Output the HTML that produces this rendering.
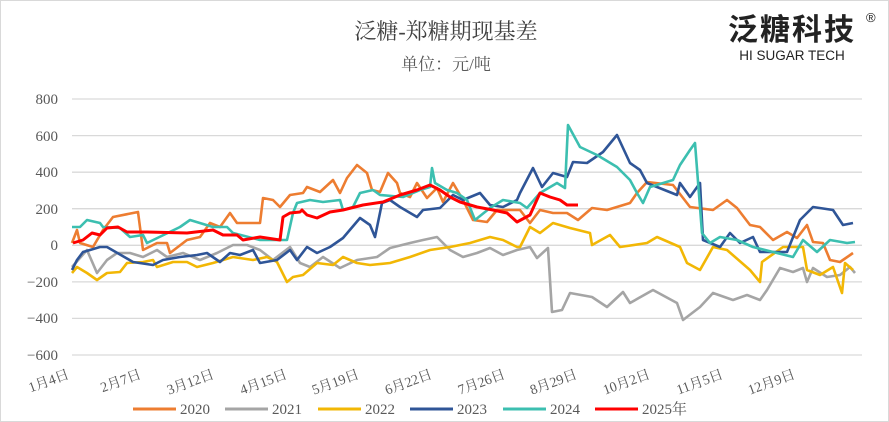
<!DOCTYPE html>
<html><head><meta charset="utf-8"><style>
body{margin:0;background:#fff;}
svg{display:block;font-family:"Liberation Serif","Noto Serif CJK SC",serif;}
</style></head><body>
<svg width="889" height="422" viewBox="0 0 889 422">
<rect x="0.5" y="0.5" width="888" height="421" fill="#fff" stroke="#d9d9d9"/>
<text x="446" y="39" font-size="22" text-anchor="middle" fill="#404040">泛糖-郑糖期现基差</text>
<text x="446" y="70" font-size="17" text-anchor="middle" fill="#595959">单位：元/吨</text>
<text x="792" y="40" font-size="30" font-weight="bold" text-anchor="middle" fill="#222" font-family="Liberation Sans,Noto Sans CJK SC,sans-serif" letter-spacing="2">泛糖科技</text>
<text x="866" y="22" font-size="13" fill="#222" font-family="Liberation Sans,sans-serif">®</text>
<text x="792" y="60" font-size="13.5" text-anchor="middle" fill="#222" font-family="Liberation Sans,sans-serif">HI SUGAR TECH</text>
<g stroke="#d9d9d9" stroke-width="1.3">
<line x1="72" x2="862" y1="99" y2="99"/><line x1="72" x2="862" y1="135.6" y2="135.6"/><line x1="72" x2="862" y1="172.2" y2="172.2"/><line x1="72" x2="862" y1="208.7" y2="208.7"/><line x1="72" x2="862" y1="245.3" y2="245.3"/><line x1="72" x2="862" y1="281.9" y2="281.9"/><line x1="72" x2="862" y1="318.4" y2="318.4"/><line x1="72" x2="862" y1="355" y2="355"/>
</g>
<g font-size="15" fill="#595959" text-anchor="end">
<text x="58" y="104">800</text><text x="58" y="141">600</text><text x="58" y="177">400</text><text x="58" y="214">200</text><text x="58" y="250">0</text><text x="58" y="287">−200</text><text x="58" y="323">−400</text><text x="58" y="360">−600</text>
</g>
<g font-size="14" fill="#595959" text-anchor="end">
<text transform="translate(70,378) rotate(-20)">1月4日</text>
<text transform="translate(142,378) rotate(-20)">2月7日</text>
<text transform="translate(215,378) rotate(-20)">3月12日</text>
<text transform="translate(288,378) rotate(-20)">4月15日</text>
<text transform="translate(360,378) rotate(-20)">5月19日</text>
<text transform="translate(433,378) rotate(-20)">6月22日</text>
<text transform="translate(506,378) rotate(-20)">7月26日</text>
<text transform="translate(578,378) rotate(-20)">8月29日</text>
<text transform="translate(651,378) rotate(-20)">10月2日</text>
<text transform="translate(724,378) rotate(-20)">11月5日</text>
<text transform="translate(796,378) rotate(-20)">12月9日</text>
</g>
<g fill="none" stroke-width="2.6" stroke-linejoin="round">
<polyline stroke="#a5a5a5" points="72,267 87,250 97,273 107,260 117,253 130,253 143,257 157,250 167,257 183,253 200,260 217,253 233,245 247,245 260,250 273,260 290,247 300,263 310,267 323,257 340,268 357,260 377,257 390,248 410,243 423,240 437,237 450,250 463,257 477,253 490,248 503,255 517,250 530,247 537,258 548,248 552,312 562,310 570,293 592,297 607,307 623,292 630,303 653,290 677,303 683,320 700,307 713,293 733,300 747,295 760,300 767,290 780,268 793,272 803,268 807,282 813,268 827,277 840,275 850,267 855,273"/>
<polyline stroke="#f2b705" points="72,273 77,267 87,273 97,280 107,273 120,272 127,263 143,262 153,260 157,267 173,262 187,262 197,267 213,263 223,260 233,257 253,260 267,257 277,262 287,282 293,277 303,275 317,263 333,265 343,257 357,263 370,265 390,263 410,257 430,250 450,247 470,243 490,237 503,240 517,247 520,247 530,227 540,233 553,223 570,228 590,233 592,245 610,235 620,247 647,243 657,237 680,247 687,263 700,270 713,247 727,250 750,270 760,282 762,262 783,247 803,247 807,270 820,275 833,267 842,293 845,263 853,270"/>
<polyline stroke="#ed7d31" points="72,243 77,230 80,243 93,247 103,230 113,217 138,212 143,250 157,243 167,243 170,253 187,240 200,237 210,223 220,227 230,213 237,223 260,223 263,198 273,200 280,207 290,195 303,193 307,187 320,192 333,180 340,193 347,178 357,165 367,173 372,190 380,192 388,173 397,183 400,193 410,197 417,183 427,198 437,188 443,202 453,183 463,200 473,220 487,222 497,210 510,210 520,210 530,223 540,210 553,213 567,213 578,220 592,208 607,210 630,203 637,193 647,182 673,185 690,207 713,210 727,200 737,208 750,225 760,227 773,240 787,232 797,238 807,225 813,242 823,243 830,260 840,262 853,253"/>
<polyline stroke="#2f5597" points="72,270 77,260 83,252 90,250 100,247 107,247 133,262 153,265 163,260 180,257 197,255 207,253 220,262 230,253 240,255 253,250 260,263 277,260 290,250 297,260 307,247 317,253 330,247 343,238 360,218 370,225 375,237 382,203 390,200 400,207 417,217 423,210 440,208 453,195 463,200 480,193 490,205 503,207 517,200 520,193 533,168 542,187 553,173 567,177 573,162 587,163 603,152 617,135 630,163 640,170 647,183 677,195 680,183 690,197 700,183 703,240 720,247 730,233 740,243 753,237 760,252 787,252 800,220 813,207 833,210 843,225 853,223"/>
<polyline stroke="#3cbfb0" points="72,227 80,227 87,220 100,223 103,227 120,228 130,237 143,235 147,243 180,227 190,220 213,227 227,227 233,233 260,240 287,240 293,213 297,203 310,200 323,202 340,200 343,210 353,207 360,193 373,190 380,195 403,197 420,190 430,187 432,168 435,183 447,190 457,193 467,200 475,220 490,208 503,200 520,203 527,208 540,193 557,183 565,188 568,125 580,147 597,155 617,167 630,180 637,193 643,203 650,187 673,180 680,165 690,150 695,143 702,233 710,243 720,237 737,240 753,247 773,252 793,257 803,240 817,252 830,240 847,243 855,242"/>
<polyline stroke="#ff0000" stroke-width="3" points="73,243 83,240 92,233 100,235 107,228 118,227 127,232 147,232 187,233 213,230 223,235 237,235 243,240 260,237 280,240 283,217 290,213 300,212 302,210 307,215 317,218 330,212 343,210 363,205 383,202 400,195 417,190 430,185 440,190 450,197 460,202 477,207 493,210 507,213 517,222 530,215 540,193 550,197 560,200 567,205 578,205"/>
</g>
<g font-size="15" fill="#595959">
<line x1="133" y1="409" x2="176" y2="409" stroke="#ed7d31" stroke-width="3"/><text x="180" y="414">2020</text>
<line x1="225" y1="409" x2="268" y2="409" stroke="#a5a5a5" stroke-width="3"/><text x="272" y="414">2021</text>
<line x1="318" y1="409" x2="361" y2="409" stroke="#f2b705" stroke-width="3"/><text x="365" y="414">2022</text>
<line x1="410" y1="409" x2="453" y2="409" stroke="#2f5597" stroke-width="3"/><text x="457" y="414">2023</text>
<line x1="503" y1="409" x2="546" y2="409" stroke="#3cbfb0" stroke-width="3"/><text x="550" y="414">2024</text>
<line x1="595" y1="409" x2="638" y2="409" stroke="#ff0000" stroke-width="3"/><text x="642" y="414">2025年</text>
</g>
</svg>
</body></html>
